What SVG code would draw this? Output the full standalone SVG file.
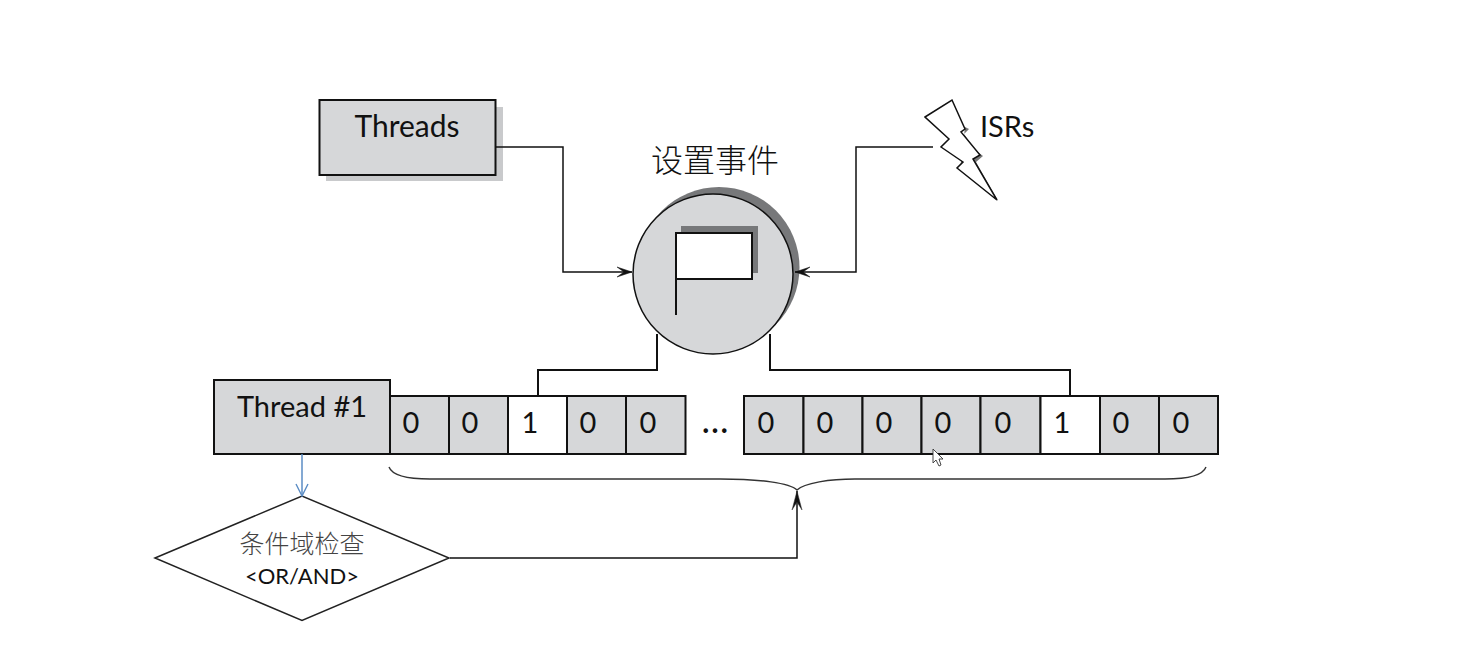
<svg xmlns="http://www.w3.org/2000/svg" width="1483" height="652" viewBox="0 0 1483 652">
<style>
text{font-family:"Lato","Noto Sans CJK SC",sans-serif;fill:#111}
.cjk{font-family:"Noto Sans CJK SC",sans-serif;font-weight:300}
.box{fill:#d6d7d9;stroke:#111;stroke-width:2}
.w{fill:#fff;stroke:#111;stroke-width:2}
.c{fill:none;stroke:#111;stroke-width:1.5}
.bit{font-size:29px;text-anchor:middle}
</style>
<defs>
<marker id="a" viewBox="0 0 18 12" refX="16" refY="6" markerWidth="18" markerHeight="12" markerUnits="userSpaceOnUse" orient="auto"><path d="M1 1L16 6L1 11L8 6Z" fill="#111" stroke="#111" stroke-width=".5"/></marker>
<marker id="u" viewBox="0 0 22 12" refX="20" refY="6" markerWidth="22" markerHeight="12" markerUnits="userSpaceOnUse" orient="auto"><path d="M1 1L20 6L1 11L9 6Z" fill="#111" stroke="#333" stroke-width=".5"/></marker>
<marker id="b" viewBox="0 0 14 14" refX="13" refY="7" markerWidth="14" markerHeight="14" markerUnits="userSpaceOnUse" orient="auto"><path d="M1 1L13 7L1 13" fill="none" stroke="#5b8cc4" stroke-width="1.4"/></marker>
</defs>
<rect width="1483" height="652" fill="#fff"/>
<g id="threads">
<rect x="326" y="107" width="177" height="74" fill="#c9cacc"/>
<rect class="box" x="319.500" y="100" width="176" height="75"/>
<text x="407" y="137" font-size="30" text-anchor="middle">Threads</text>
</g>
<g id="isrs">
<path d="M965 127L969 129L964 134L975 150L983 156L976 162L998 201L960 170Z" fill="#777"/>
<path d="M925 117L952 100L965 129L961 132L980 155L973 159L997 200L957 168L963 162L941 147L949 139Z" fill="#fff" stroke="#111" stroke-width="1.500"/>
<text x="980" y="137" font-size="29">ISRs</text>
</g>
<g id="set-event">
<text class="cjk" x="715" y="172" font-size="32" text-anchor="middle">设置事件</text>
<circle cx="719" cy="267.500" r="80.500" fill="#77787a"/>
<circle cx="713" cy="274" r="80" fill="#d6d7d9" stroke="#111" stroke-width="1.500"/>
<rect x="681" y="226" width="77" height="47" fill="#77787a"/>
<rect x="676" y="233" width="76" height="46" fill="#fff" stroke="#111" stroke-width="2"/>
<path d="M676 279V315" stroke="#111" stroke-width="2" fill="none"/>
</g>
<g id="thread-1">
<rect class="box" x="214" y="380" width="176" height="74"/>
<text x="302" y="417" font-size="29" text-anchor="middle">Thread #1</text>
</g>
<g id="bits-left">
<rect class="box" x="390" y="396" width="59" height="58"/><text class="bit" x="411" y="433">0</text>
<rect class="box" x="449" y="396" width="59" height="58"/><text class="bit" x="470" y="433">0</text>
<rect class="w" x="508" y="396" width="59" height="58"/><text class="bit" x="530" y="433">1</text>
<rect class="box" x="567" y="396" width="59" height="58"/><text class="bit" x="588" y="433">0</text>
<rect class="box" x="626" y="396" width="59.500" height="58"/><text class="bit" x="648" y="433">0</text>
</g>
<text id="ellipsis" x="715" y="433" font-size="36" text-anchor="middle" font-family="Liberation Sans,sans-serif">…</text>
<g id="bits-right">
<rect class="box" x="744" y="396" width="59.500" height="58"/><text class="bit" x="766" y="433">0</text>
<rect class="box" x="803.500" y="396" width="59" height="58"/><text class="bit" x="825" y="433">0</text>
<rect class="box" x="862.500" y="396" width="59" height="58"/><text class="bit" x="884" y="433">0</text>
<rect class="box" x="921.500" y="396" width="59" height="58"/><text class="bit" x="943" y="433">0</text>
<rect class="box" x="980.500" y="396" width="60" height="58"/><text class="bit" x="1003" y="433">0</text>
<rect class="w" x="1040.500" y="396" width="59.500" height="58"/><text class="bit" x="1062" y="433">1</text>
<rect class="box" x="1100" y="396" width="59" height="58"/><text class="bit" x="1121" y="433">0</text>
<rect class="box" x="1159" y="396" width="59" height="58"/><text class="bit" x="1181" y="433">0</text>
</g>
<g id="condition-check">
<path d="M155 558L302 496L449 558L302 620.500Z" fill="#fff" stroke="#222" stroke-width="1.500"/>
<text class="cjk" x="302" y="553" font-size="25" text-anchor="middle" style="fill:#444">条件域检查</text>
<text x="302" y="584" font-size="22" text-anchor="middle">&lt;OR/AND&gt;</text>
</g>
<g id="connectors">
<path class="c" d="M495 147H563V272H632" marker-end="url(#a)"/>
<path class="c" d="M933 147H856V272H795" marker-end="url(#a)"/>
<path class="c" d="M657 334V370H538V396" style="stroke-width:2"/>
<path class="c" d="M770 334V370H1070V396" style="stroke-width:2"/>
<path d="M302 454V496" fill="none" stroke="#5b8cc4" stroke-width="1.500" marker-end="url(#b)"/>
<path class="c" d="M450 558H797V491" marker-end="url(#u)"/>
<path d="M389 467C392 475 405 479 430 479H720C760 479 790 483 797 490C804 483 830 479 855 479H1165C1190 479 1203 475 1206 467" fill="none" stroke="#333" stroke-width="1.400"/>
</g>
<path id="cursor" d="M933 449V463L936 460L939 466L941 465L939 459L943 459Z" fill="#fff" stroke="#333" stroke-width=".9"/>
</svg>
